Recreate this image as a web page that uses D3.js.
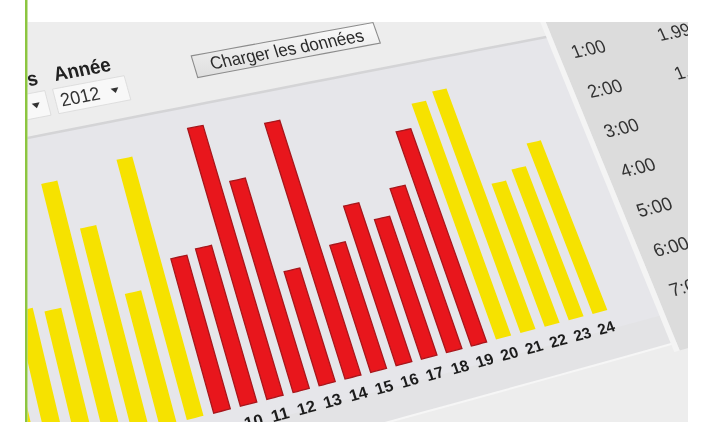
<!DOCTYPE html>
<html><head><meta charset="utf-8">
<script src="https://cdn.jsdelivr.net/npm/d3@7"></script>
<style>html,body{margin:0;padding:0;background:#fff;} svg{display:block}</style>
</head><body>
<script>
// ---------- data ----------
const hours = [1,2,3,4,5,6,7,8,9,10,11,12,13,14,15,16,17,18,19,20,21,22,23,24];
const consumption = [1.45,1.40,1.38,1.32,2.50,2.01,1.31,2.58,1.54,1.58,2.74,2.15,1.17,2.64,1.32,1.67,1.47,1.74,2.29,2.54,2.62,1.56,1.66,1.89];
const tariff = ["creuses","creuses","creuses","creuses","creuses","creuses","creuses","creuses",
  "pleines","pleines","pleines","pleines","pleines","pleines","pleines","pleines","pleines","pleines","pleines",
  "creuses","creuses","creuses","creuses","creuses"];
const timeRows = ["1:00","2:00","3:00","4:00","5:00","6:00","7:00"];
const timeValues = ["1.99","1.45"];
const monthLabel = "Mois", yearLabel = "Année", yearValue = "2012", buttonLabel = "Charger les données";

const W = 702, H = 422;
const FONT = "'Liberation Sans', Arial, sans-serif";

// ---------- camera (photo of a tilted screen): flat page coords -> picture ----------
function proj(X, Y){
  const j = (X - 268) / 26, v = 420 - Y;
  const bx = 222 + 26.7*j - 0.1*j*j, by = 411 - 6.9*j + 0.02*j*j;
  const s = 0.28 + 0.00733*j, k = 1 - 0.00667*j;
  return [bx - s*k*v, by - k*v];
}
function frame(X, Y){
  const p = proj(X,Y), px = proj(X+1,Y), py = proj(X,Y+1);
  return `matrix(${px[0]-p[0]},${px[1]-p[1]},${py[0]-p[0]},${py[1]-p[1]},${p[0]},${p[1]})`;
}
function fmt(p){ return p[0].toFixed(2)+","+p[1].toFixed(2); }
function regionPath(x0,y0,x1,y1,n){
  n = n || 16; const pts = [];
  for(let i=0;i<=n;i++) pts.push(proj(x0+(x1-x0)*i/n, y0));
  for(let i=1;i<=n;i++) pts.push(proj(x1, y0+(y1-y0)*i/n));
  for(let i=1;i<=n;i++) pts.push(proj(x1-(x1-x0)*i/n, y1));
  for(let i=1;i<n;i++) pts.push(proj(x0, y1-(y1-y0)*i/n));
  return "M"+pts.map(fmt).join("L")+"Z";
}
function linePath(x0,y0,x1,y1,n){
  n = n || 16; const pts = [];
  for(let i=0;i<=n;i++) pts.push(proj(x0+(x1-x0)*i/n, y0+(y1-y0)*i/n));
  return "M"+pts.map(fmt).join("L");
}

// ---------- svg ----------
const svg = d3.select("body").append("svg").attr("width",W).attr("height",H);
const defs = svg.append("defs");
defs.append("clipPath").attr("id","screen").append("rect")
  .attr("x",27.5).attr("y",22).attr("width",660.5).attr("height",400);
const bg = defs.append("linearGradient").attr("id","btn").attr("x1",0).attr("y1",0).attr("x2",0).attr("y2",1);
bg.append("stop").attr("offset","0%").attr("stop-color","#fbfbfb");
bg.append("stop").attr("offset","100%").attr("stop-color","#dedede");
defs.append("filter").attr("id","soft").append("feGaussianBlur").attr("stdDeviation",0.45);

svg.append("rect").attr("width",W).attr("height",H).attr("fill","#ffffff");
const g = svg.append("g").attr("clip-path","url(#screen)").append("g").attr("filter","url(#soft)");

// backgrounds
g.append("path").attr("d",regionPath(-300,-200,1100,700,30)).attr("fill","#ededed");
g.append("path").attr("d",regionPath(-100,125,722,472,30)).attr("fill","#e6e6ea");
g.append("path").attr("d",regionPath(-100,440,722,472,30)).attr("fill","#e3e3e5");
g.append("path").attr("d",linePath(-100,125,722,125,30)).attr("stroke","#d4d4d6").attr("stroke-width",2.5).attr("fill","none");
g.append("path").attr("d",linePath(-100,472,722,472,30)).attr("stroke","#f6f6f6").attr("stroke-width",2).attr("fill","none");
g.append("path").attr("d",regionPath(722,-200,1100,481,30)).attr("fill","#dcdcdc");
g.append("path").attr("d",regionPath(716,-200,722,481,30)).attr("fill","#f4f4f4");

// controls
g.append("text").attr("transform",frame(178,77)).attr("text-anchor","end")
  .attr("font-family",FONT).attr("font-weight","bold").attr("font-size",19).attr("fill","#222").text(monthLabel);
g.append("text").attr("transform",frame(195,77)).attr("text-anchor","start")
  .attr("font-family",FONT).attr("font-weight","bold").attr("font-size",19).attr("fill","#222").text(yearLabel);
g.append("path").attr("d",regionPath(90,84,182,108,8)).attr("fill","#f8f8f8").attr("stroke","#d8d8d8").attr("stroke-width",0.8);
g.append("path").attr("d",regionPath(190,84,264,108,8)).attr("fill","#f8f8f8").attr("stroke","#d8d8d8").attr("stroke-width",0.8);
g.append("text").attr("transform",frame(215,102)).attr("text-anchor","middle")
  .attr("font-family",FONT).attr("font-size",18).attr("fill","#333").text(yearValue);
[170,251].forEach(ax=>{
  g.append("path").attr("d","M"+[proj(ax-4,94),proj(ax+4,94),proj(ax,99)].map(fmt).join("L")+"Z").attr("fill","#333");
});
g.append("path").attr("d",regionPath(337,77,536,99,10)).attr("fill","url(#btn)").attr("stroke","#8c8c8c").attr("stroke-width",1.1);
g.append("text").attr("transform",frame(436.5,94)).attr("text-anchor","middle")
  .attr("font-family",FONT).attr("font-size",18).attr("fill","#2a2a2a").text(buttonLabel);

// scales
const x = d3.scaleBand().domain(hours).range([47, 47+26*24]).paddingInner(0.38).paddingOuter(0.19);
const y = d3.scaleLinear().domain([0,3]).range([420,120]);
const color = d3.scaleOrdinal().domain(["creuses","pleines"]).range(["#f6e200","#e8191d"]);
const bw = x.bandwidth();

// bars
const data = hours.map((h,i)=>({h, v:consumption[i], t:tariff[i]}));
g.append("g").selectAll("path").data(data).join("path")
  .attr("d", d=>regionPath(x(d.h), y(d.v), x(d.h)+bw, y(0), 4))
  .attr("fill", d=>color(d.t))
  .attr("stroke", d=>d.t==="pleines" ? "#a8161b" : "none")
  .attr("stroke-width", 1.3);

// x labels
g.append("g").selectAll("text").data(data).join("text")
  .attr("transform", d=>frame(x(d.h)+bw/2, y(0)+23))
  .attr("text-anchor","middle").attr("font-family",FONT).attr("font-weight","bold")
  .attr("font-size",16).attr("fill","#1e1e1e").text(d=>String(d.h));

// right panel table
timeRows.forEach((t,i)=>{
  g.append("text").attr("transform",frame(737, 153+45.2*i)).attr("text-anchor","start")
    .attr("font-family",FONT).attr("font-size",20).attr("fill","#333").text(t);
});
timeValues.forEach((t,i)=>{
  g.append("text").attr("transform",frame(840, 153+45.2*i)).attr("text-anchor","start")
    .attr("font-family",FONT).attr("font-size",20).attr("fill","#333").text(t);
});

// page frame: green rule at the left
svg.append("rect").attr("x",25).attr("y",0).attr("width",2.5).attr("height",H).attr("fill","#8cc540");
</script>
</body></html>
